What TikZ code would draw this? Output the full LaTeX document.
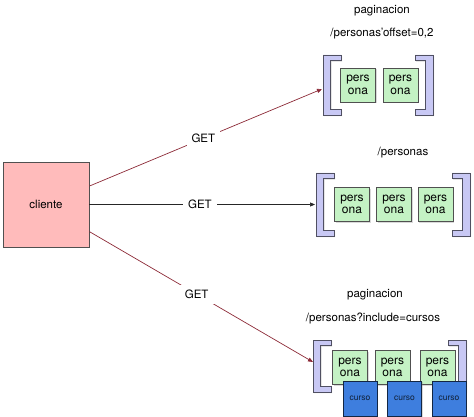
\documentclass[tikz,border=0pt]{standalone}
\usepackage{fontspec}
\setmainfont{TeX Gyre Heros}
\usetikzlibrary{arrows.meta,shadows}

\definecolor{rojo}{RGB}{140,42,55}
\definecolor{rosa}{RGB}{255,187,187}
\definecolor{verde}{RGB}{196,242,196}
\definecolor{azul}{RGB}{62,126,222}
\definecolor{lila}{RGB}{200,200,244}
\definecolor{borde}{RGB}{80,80,80}

\tikzset{
    sombra/.style={drop shadow={shadow xshift=1.2pt, shadow yshift=-1.2pt, opacity=0.3}},
    caja/.style={draw=borde, line width=0.7pt, sombra},
    persona/.style={caja, fill=verde, minimum width=35pt, minimum height=34pt,
        align=center, inner sep=0pt, font=\fontsize{12}{12.5}\selectfont},
    curso/.style={caja, fill=azul, draw=black!70!azul, minimum width=34pt, minimum height=35pt,
        inner sep=0pt, text=black!75!azul, font=\fontsize{8.5}{9}\selectfont},
    corchete/.style={fill=lila, draw=black!60!lila, line width=0.7pt, sombra},
    titulo/.style={font=\fontsize{11.5}{13}\selectfont},
    peticion/.style={-{Triangle[length=5pt,width=4pt]}, line width=0.7pt},
    etiqueta/.style={fill=white, inner sep=5pt, font=\fontsize{11.5}{13}\selectfont}
}

% corchetes: x exterior, y arriba, y abajo
\newcommand{\corcheteizq}[3]{%
    \filldraw[corchete] (#1,#2) -- ++(18,0) -- ++(0,5.5) -- ++(-10.5,0) -- (#1+7.5,#3-5.5)
        -- ++(10.5,0) -- ++(0,5.5) -- (#1,#3) -- cycle;}
\newcommand{\corcheteder}[3]{%
    \filldraw[corchete] (#1,#2) -- ++(-18,0) -- ++(0,5.5) -- ++(10.5,0) -- (#1-7.5,#3-5.5)
        -- ++(-10.5,0) -- ++(0,5.5) -- (#1,#3) -- cycle;}

\begin{document}
\begin{tikzpicture}[x=1pt, y=-1pt]
    \useasboundingbox (0,0) rectangle (474,417);

    \node[caja, fill=rosa, minimum width=86pt, minimum height=85pt,
        font=\fontsize{11.5}{13}\selectfont] (cliente) at (46,204.5) {cliente};

    % arriba: paginacion
    \node[titulo] (pag1) at (382,11) {paginacion};
    \node[titulo] (url1) at (382,34) {/personas'offset=0,2};
    \corcheteizq{323}{55}{115}
    \corcheteder{433}{55}{115}
    \foreach \i/\x in {1/358,2/400.5}
        {\node[persona] (pa\i) at (\x,85) {pers\\ona};}
    \coordinate (fin1) at (322,89);

    % centro: todas
    \node[titulo] (url2) at (403,153) {/personas};
    \corcheteizq{316}{173}{236}
    \corcheteder{470}{173}{236}
    \foreach \i/\x in {1/352,2/394,3/435.5}
        {\node[persona] (pb\i) at (\x,204.5) {pers\\ona};}
    \coordinate (fin2) at (315,204.5);

    % abajo: include
    \node[titulo] (pag3) at (375,295) {paginacion};
    \node[titulo] (url3) at (373,318) {/personas?include=cursos};
    \corcheteizq{313}{340}{392}
    \corcheteder{466}{340}{392}
    \foreach \i/\x in {1/350,2/392.5,3/437.5}
        {\node[persona] (pc\i) at (\x,367.5) {pers\\ona};}
    \foreach \i/\x in {1/360,2/404.5,3/449}
        {\node[curso] (cu\i) at (\x,398.5) {curso};}
    \coordinate (fin3) at (313,362);

    % peticiones
    \draw[peticion, rojo] (cliente.23) -- node[etiqueta, text=black, pos=0.49] {GET} (fin1);
    \draw[peticion, black!85] (cliente.east) -- node[etiqueta, text=black, pos=0.49] {GET} (fin2);
    \draw[peticion, rojo] (cliente.-32) -- node[etiqueta, text=black, pos=0.48] {GET} (fin3);
\end{tikzpicture}
\end{document}
